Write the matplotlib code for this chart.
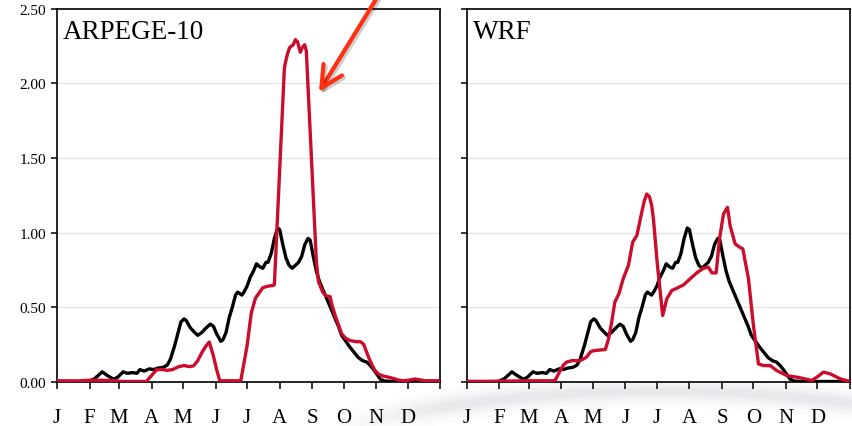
"""Seasonal cycle of daily values: ARPEGE-10 and WRF runs against observations."""

import numpy as np
import matplotlib.pyplot as plt
from matplotlib.collections import LineCollection
from matplotlib.patches import ArrowStyle
from matplotlib import patheffects as pe

plt.rcParams["font.family"] = ["Liberation Serif", "DejaVu Serif"]

MONTH_STARTS = [0, 31, 59, 90, 120, 151, 181, 212, 243, 273, 304, 334, 365]
MONTH_LABELS = ["J", "F", "M", "A", "M", "J", "J", "A", "S", "O", "N", "D", ""]
Y_TICKS = [0.0, 0.5, 1.0, 1.5, 2.0, 2.5]

# observed climatology (black, same in both panels)
OBS_DAY = [0, 30, 36, 43, 48, 54, 58, 63, 67, 72, 76, 79, 83, 88, 92, 96, 101,
           105, 108, 112, 115, 118, 121, 123, 127, 131, 134, 138, 142, 146, 149,
           152, 156, 158, 161, 164, 167, 170, 172, 176, 178, 181, 184, 187, 190,
           193, 196, 199, 201, 204, 207, 210, 212, 215, 218, 221, 224, 227, 230,
           233, 236, 239, 241, 244, 247, 250, 253, 256, 259, 262, 265, 268, 271,
           275, 279, 283, 287, 291, 295, 298, 301, 305, 308, 312, 320, 365]
OBS_VAL = [0.0, 0.0, 0.02, 0.065, 0.04, 0.015, 0.03, 0.065, 0.055, 0.06, 0.055,
           0.08, 0.07, 0.085, 0.08, 0.09, 0.095, 0.11, 0.15, 0.24, 0.32, 0.40,
           0.42, 0.41, 0.36, 0.33, 0.31, 0.33, 0.36, 0.385, 0.37, 0.32, 0.27,
           0.28, 0.33, 0.43, 0.50, 0.58, 0.60, 0.58, 0.60, 0.64, 0.70, 0.74,
           0.79, 0.77, 0.76, 0.80, 0.80, 0.86, 0.96, 1.03, 1.02, 0.92, 0.83,
           0.78, 0.76, 0.78, 0.80, 0.84, 0.92, 0.96, 0.95, 0.84, 0.74, 0.67,
           0.62, 0.57, 0.52, 0.47, 0.42, 0.37, 0.31, 0.27, 0.23, 0.195, 0.16,
           0.14, 0.13, 0.11, 0.085, 0.045, 0.015, 0.003, 0.0, 0.0]

# ARPEGE-10 simulation
ARPEGE_DAY = [0, 20, 35, 55, 62, 85, 90, 95, 100, 105, 110, 116, 121, 126, 130,
              134, 138, 142, 145, 149, 152, 155, 175, 181, 185, 189, 192, 196,
              201, 206, 207, 216.5, 217.5, 219.5, 221.5, 223, 225, 227, 229,
              231.7, 233.5, 235.8, 237.4, 247, 249, 253, 256, 260, 262, 265,
              268, 271, 275, 279, 284, 289, 292, 296, 300, 303, 306, 310, 315,
              320, 325, 330, 336, 341, 345, 350, 365]
ARPEGE_VAL = [0.005, 0.004, 0.01, 0.005, 0.0, 0.0, 0.04, 0.08, 0.08, 0.075,
              0.08, 0.1, 0.107, 0.1, 0.105, 0.14, 0.195, 0.24, 0.265, 0.17,
              0.08, 0.005, 0.005, 0.24, 0.46, 0.56, 0.59, 0.63, 0.64, 0.645,
              0.65, 2.10, 2.14, 2.20, 2.24, 2.25, 2.26, 2.294, 2.28, 2.21, 2.24,
              2.26, 2.22, 0.80, 0.67, 0.60, 0.575, 0.57, 0.51, 0.44, 0.38, 0.32,
              0.29, 0.275, 0.268, 0.267, 0.25, 0.175, 0.11, 0.072, 0.05, 0.038,
              0.03, 0.021, 0.01, 0.005, 0.01, 0.017, 0.012, 0.005, 0.005]

# WRF simulation
WRF_DAY = [0, 20, 40, 60, 84, 88, 92, 95, 100, 108, 114, 118, 121, 128, 132,
           135, 138, 141, 145, 149, 154, 158, 162, 166.7, 169, 171.4, 174,
           176.2, 177.8, 181.6, 186.6, 190.5, 195.3, 200, 206.4, 212.7, 219,
           225.4, 230.2, 233.4, 237.5, 240.7, 244.5, 248.3, 250.8, 255.6, 260.3,
           262.9, 268.3, 273, 277.8, 282.6, 289, 295.3, 304.8, 317.5, 328.6,
           333.4, 339.7, 346, 355.6, 365]
WRF_VAL = [0.0, 0.0, 0.003, 0.005, 0.005, 0.06, 0.11, 0.13, 0.14, 0.14, 0.163,
           0.2, 0.207, 0.212, 0.215, 0.285, 0.397, 0.532, 0.59, 0.69, 0.78,
           0.935, 0.98, 1.137, 1.21, 1.258, 1.24, 1.18, 1.09, 0.78, 0.443,
           0.555, 0.611, 0.626, 0.648, 0.689, 0.729, 0.76, 0.767, 0.729, 0.729,
           0.957, 1.124, 1.169, 1.046, 0.923, 0.9, 0.89, 0.689, 0.376, 0.118,
           0.107, 0.107, 0.073, 0.04, 0.025, 0.007, 0.029, 0.063, 0.052, 0.018,
           0.0]

MODEL_RED = "#cc0c2c"

fig = plt.figure(figsize=(8.52, 4.27), dpi=100)

# soft grey swoosh behind the month labels, drawn in a pixel-space background axes
bg = fig.add_axes([0, 0, 1, 1], zorder=-10)
bg.set_xlim(0, 852)
bg.set_ylim(0, 427)
bg.axis("off")
theta = np.radians(np.linspace(122, 60, 200))
sx = 660 + 660 * np.cos(theta)
sy = -250 + 285 * np.sin(theta)
pts = np.column_stack([sx, sy]).reshape(-1, 1, 2)
segs = np.concatenate([pts[:-1], pts[1:]], axis=1)
fade = np.clip((sx[:-1] - 330) / 110, 0, 1)
for lw, a in [(24, 0.03), (17, 0.04), (11, 0.05), (6, 0.065)]:
    cols = np.zeros((len(segs), 4))
    cols[:, :3] = [0.54, 0.56, 0.63]
    cols[:, 3] = a * fade
    bg.add_collection(LineCollection(segs, colors=cols, linewidths=lw,
                                     capstyle="butt"))

ax_l = fig.add_axes([0.0669, 0.1042, 0.4499, 0.8724])
ax_r = fig.add_axes([0.5478, 0.1042, 0.4499, 0.8724])

panels = [(ax_l, "ARPEGE-10", ARPEGE_DAY, ARPEGE_VAL),
          (ax_r, "WRF", WRF_DAY, WRF_VAL)]
for ax, title, days, vals in panels:
    for y in Y_TICKS[1:-1]:
        ax.axhline(y, color="#e3e3e3", lw=0.9, zorder=0)
    ax.plot(OBS_DAY, OBS_VAL, color="black", lw=2.4, zorder=2,
            solid_joinstyle="round")
    ax.plot(days, vals, color=MODEL_RED, lw=2.4, zorder=3,
            solid_joinstyle="round")
    ax.set_xlim(0, 365)
    ax.set_ylim(0, 2.5)
    ax.set_xticks(MONTH_STARTS)
    ax.set_xticklabels(MONTH_LABELS, fontsize=15)
    ax.set_yticks(Y_TICKS)
    ax.set_yticklabels([f"{v:.2f}" for v in Y_TICKS], fontsize=11)
    ax.tick_params(axis="x", direction="out", length=5, width=1.1, pad=14)
    ax.tick_params(axis="y", direction="out", length=4, width=1.1, pad=4)
    for sp in ax.spines.values():
        sp.set_linewidth(1.2)
    ax.text(0.016, 0.922, title, transform=ax.transAxes, fontsize=19.5,
            va="baseline", ha="left")

ax_r.tick_params(axis="y", labelleft=False)

# red arrow pointing at the ARPEGE-10 summer peak
fig.add_artist(plt.Annotation(
    "", xy=(319, 334), xytext=(378, 430),
    xycoords="figure pixels", textcoords="figure pixels",
    arrowprops=dict(arrowstyle=ArrowStyle("->", head_length=1.55, head_width=0.78),
                    mutation_scale=10, color="#ff3010", lw=3.0,
                    shrinkA=0, shrinkB=0,
                    path_effects=[pe.SimpleLineShadow(offset=(1.5, -1.5),
                                                      alpha=0.2),
                                  pe.Normal()])))

fig.savefig("out.png", dpi=100)
